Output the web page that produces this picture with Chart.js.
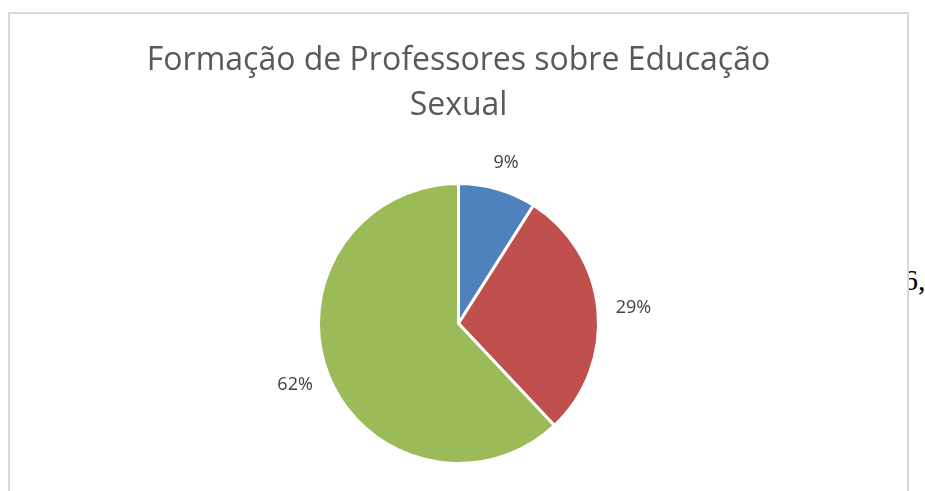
<!DOCTYPE html>
<html>
<head>
<meta charset="utf-8">
<script src="https://cdn.jsdelivr.net/npm/chart.js@4.4.0/dist/chart.umd.min.js"></script>
<style>
    body { margin:0; background:#fff; width:925px; height:491px; overflow:hidden; position:relative; }
    #box { position:absolute; left:8px; top:12px; width:897px; height:479px; border:2px solid #d9d9d9; background:#fff; z-index:2; }
    #stray { position:absolute; left:903px; top:265px; font-family:'Liberation Serif', serif; font-size:30px; line-height:30px; color:#000; z-index:1; }
</style>
</head>
<body>
<span id="stray">6,</span>
<div id="box"><canvas id="pie" width="897" height="479"></canvas></div>
<script>
let titleLines = ['Formação de Professores sobre Educação', 'Sexual'];
let categories = ['Sim', 'Não', 'Não sabe'];
let values = [9, 29, 62];
let colors = ['#4f81bd', '#c0504d', '#9bbb59'];

// labels outside each slice: box edge sits a fixed gap off the rim
const outsideLabels = {
    id: 'outsideLabels',
    afterDraw(chart) {
        let ctx = chart.ctx;
        let meta = chart.getDatasetMeta(0);
        let total = values.reduce((a,b)=>a+b,0);
        ctx.save();
        ctx.font = '18px "Open Sans"';
        ctx.fillStyle = '#404040';
        ctx.textAlign = 'center';
        ctx.textBaseline = 'middle';
        meta.data.forEach((arc,i)=>{
            let txt = Math.round(values[i] / total * 100) + '%';
            let w = ctx.measureText(txt).width, h = 18;
            let mid = (arc.startAngle + arc.endAngle) / 2;
            let cx = Math.cos(mid), cy = Math.sin(mid);
            let r = arc.outerRadius + 18;
            let x = arc.x + cx * r + cx * w / 2;
            let y = arc.y + cy * r + cy * h / 2;
            ctx.fillText(txt, x, y);
        });
        ctx.restore();
    }
};

new Chart(document.getElementById('pie'), {
    type: 'pie',
    data: {
        labels: categories,
        datasets: [{ data: values, backgroundColor: colors, borderColor: '#fff', borderWidth: 3 }]
    },
    options: {
        responsive: false,
        animation: false,
        layout: { padding: { top: 0, bottom: 28, left: 0, right: 0 } },
        plugins: {
            legend: { display: false },
            tooltip: { enabled: false },
            title: {
                display: true,
                text: titleLines,
                color: '#595959',
                font: { family: 'Open Sans', size: 32, weight: 'normal', lineHeight: 1.406 },
                padding: { top: 24, bottom: 54 }
            }
        }
    },
    plugins: [outsideLabels]
});
</script>
</body>
</html>
